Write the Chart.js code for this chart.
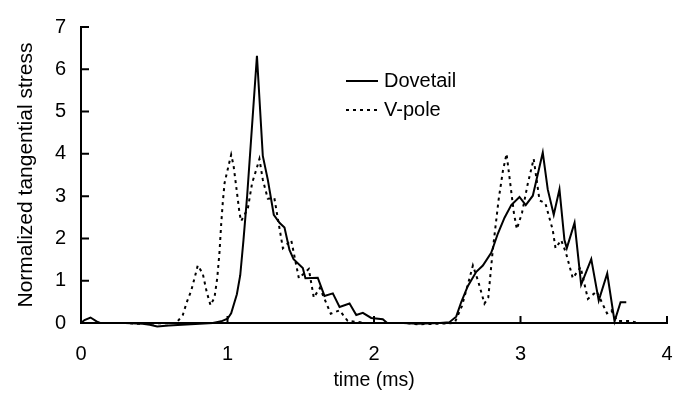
<!DOCTYPE html>
<html>
<head>
<meta charset="utf-8">
<script src="https://cdn.jsdelivr.net/npm/chart.js@4.4.1/dist/chart.umd.min.js"></script>
<style>
  html, body { margin: 0; padding: 0; background: #fff; }
</style>
</head>
<body>
<canvas id="stressChart" width="700" height="401"></canvas>
<script>
const FONT = "'Liberation Sans', Arial, sans-serif";

// Values (time in ms, normalized stress)
const dovetailTime = [0, 0.024, 0.065, 0.106, 0.13, 0.3, 0.42, 0.47, 0.52, 0.6, 0.75, 0.9, 0.957, 1.0, 1.025, 1.064, 1.087, 1.109, 1.134, 1.201, 1.241, 1.275, 1.316, 1.355, 1.389, 1.423, 1.451, 1.514, 1.532, 1.616, 1.662, 1.719, 1.765, 1.833, 1.879, 1.924, 1.981, 2.06, 2.09, 2.2, 2.3, 2.45, 2.515, 2.561, 2.595, 2.64, 2.698, 2.743, 2.8, 2.845, 2.891, 2.937, 2.993, 3.036, 3.084, 3.152, 3.186, 3.227, 3.266, 3.3, 3.316, 3.369, 3.414, 3.483, 3.534, 3.592, 3.642, 3.683, 3.722];
const dovetailStress = [0, 0.07, 0.13, 0.04, 0, 0, -0.02, -0.04, -0.08, -0.06, -0.03, 0, 0.04, 0.1, 0.23, 0.68, 1.13, 1.96, 3.0, 6.32, 3.95, 3.39, 2.56, 2.37, 2.26, 1.73, 1.51, 1.3, 1.06, 1.07, 0.64, 0.7, 0.38, 0.46, 0.19, 0.24, 0.12, 0.09, 0, 0, -0.02, 0, 0.02, 0.15, 0.49, 0.87, 1.21, 1.36, 1.66, 2.11, 2.49, 2.79, 2.98, 2.79, 3.01, 4.03, 3.16, 2.56, 3.16, 1.96, 1.77, 2.37, 0.91, 1.51, 0.53, 1.17, 0.04, 0.49, 0.49];

const vpoleTime = [0, 0.3, 0.4, 0.5, 0.65, 0.695, 0.722, 0.752, 0.775, 0.797, 0.831, 0.859, 0.884, 0.911, 0.93, 0.945, 0.957, 0.968, 0.98, 0.995, 1.025, 1.041, 1.059, 1.082, 1.093, 1.139, 1.168, 1.196, 1.218, 1.241, 1.275, 1.32, 1.378, 1.435, 1.487, 1.555, 1.589, 1.63, 1.705, 1.765, 1.82, 1.95, 2.2, 2.3, 2.42, 2.55, 2.6, 2.64, 2.675, 2.71, 2.754, 2.78, 2.81, 2.85, 2.88, 2.905, 2.93, 2.955, 2.975, 3.01, 3.05, 3.09, 3.13, 3.17, 3.22, 3.239, 3.278, 3.31, 3.357, 3.41, 3.46, 3.52, 3.59, 3.62, 3.66, 3.75, 3.8];
const vpoleStress = [0, 0, -0.02, -0.01, 0, 0.19, 0.49, 0.76, 1.06, 1.36, 1.17, 0.72, 0.42, 0.6, 1.06, 1.66, 2.34, 2.86, 3.31, 3.54, 3.98, 3.73, 3.24, 2.6, 2.41, 2.71, 3.31, 3.62, 3.88, 3.39, 2.94, 2.95, 1.77, 1.96, 1.06, 1.28, 0.6, 0.83, 0.22, 0.3, 0.05, 0, 0, -0.03, -0.02, 0, 0.4, 0.9, 1.36, 1.0, 0.46, 0.6, 1.7, 2.9, 3.6, 4.0, 3.3, 2.6, 2.22, 2.6, 3.3, 3.88, 2.9, 2.83, 2.2, 1.77, 1.96, 1.66, 1.06, 1.32, 0.57, 0.75, 0.23, 0.3, 0.05, 0.05, 0];

const seriesNames = ['Dovetail', 'V-pole'];
const xTicks = [0, 1, 2, 3, 4];
const yTicks = [0, 1, 2, 3, 4, 5, 6, 7];

function toPoints(xs, ys) {
  return xs.map((x, i) => ({ x: x, y: ys[i] }));
}

// tick marks drawn inside the plot area, like the original
const insideTicks = {
  id: 'insideTicks',
  afterDraw(chart) {
    const { ctx, chartArea, scales } = chart;
    ctx.save();
    ctx.strokeStyle = '#000';
    ctx.lineWidth = 2;
    ctx.beginPath();
    xTicks.forEach(v => {
      const px = scales.x.getPixelForValue(v);
      ctx.moveTo(px, chartArea.bottom);
      ctx.lineTo(px, chartArea.bottom - 7);
    });
    yTicks.forEach(v => {
      const py = scales.y.getPixelForValue(v);
      ctx.moveTo(chartArea.left, py);
      ctx.lineTo(chartArea.left + 8, py);
    });
    ctx.stroke();
    ctx.restore();
  }
};

// legend sitting inside the plot
const innerLegend = {
  id: 'innerLegend',
  afterDraw(chart) {
    const ctx = chart.ctx;
    chart.data.datasets.forEach((ds, i) => {
      const y = 81 + i * 29;
      ctx.save();
      ctx.strokeStyle = ds.borderColor;
      ctx.lineWidth = ds.borderWidth;
      ctx.setLineDash(ds.borderDash || []);
      ctx.beginPath();
      ctx.moveTo(346, y);
      ctx.lineTo(378, y);
      ctx.stroke();
      ctx.setLineDash([]);
      ctx.fillStyle = '#000';
      ctx.font = '20px ' + FONT;
      ctx.textBaseline = 'middle';
      ctx.fillText(ds.label, 384, y);
      ctx.restore();
    });
  }
};

const ctx = document.getElementById('stressChart').getContext('2d');

new Chart(ctx, {
  type: 'line',
  data: {
    datasets: [
      {
        label: seriesNames[0],
        data: toPoints(dovetailTime, dovetailStress),
        borderColor: '#000',
        borderWidth: 2,
        pointRadius: 0,
        tension: 0,
        clip: false
      },
      {
        label: seriesNames[1],
        data: toPoints(vpoleTime, vpoleStress),
        borderColor: '#000',
        borderWidth: 2,
        borderDash: [3, 4],
        pointRadius: 0,
        tension: 0,
        clip: false
      }
    ]
  },
  options: {
    responsive: false,
    animation: false,
    devicePixelRatio: 1,
    layout: { padding: { top: 13, right: 33, left: 0, bottom: 0 } },
    plugins: { legend: { display: false }, tooltip: { enabled: false } },
    scales: {
      x: {
        type: 'linear',
        min: 0,
        max: 4,
        afterBuildTicks: s => { s.ticks = xTicks.map(v => ({ value: v })); },
        afterFit: s => { s.height = 78; },
        grid: { display: false, drawTicks: false },
        border: { display: true, color: '#000', width: 2 },
        ticks: { color: '#000', font: { family: FONT, size: 20 }, padding: 19 },
        title: {
          display: true,
          text: 'time (ms)',
          color: '#000',
          font: { family: FONT, size: 19.5 },
          padding: { top: 0, bottom: 9 }
        }
      },
      y: {
        type: 'linear',
        min: 0,
        max: 7,
        afterBuildTicks: s => { s.ticks = yTicks.map(v => ({ value: v })); },
        afterFit: s => { s.width = 81; },
        grid: { display: false, drawTicks: false },
        border: { display: true, color: '#000', width: 2 },
        ticks: { color: '#000', font: { family: FONT, size: 20 }, padding: 15 },
        title: {
          display: true,
          text: 'Normalized tangential stress',
          color: '#000',
          font: { family: FONT, size: 21 },
          padding: { top: 14, bottom: 0 }
        }
      }
    }
  },
  plugins: [insideTicks, innerLegend]
});
</script>
</body>
</html>
